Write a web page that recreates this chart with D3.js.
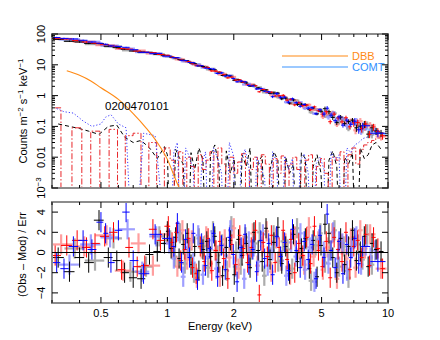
<!DOCTYPE html>
<html>
<head>
<meta charset="utf-8">
<title>0200470101 spectrum</title>
<script src="https://d3js.org/d3.v7.min.js"></script>
<style>
body { margin: 0; background: #fff; }
svg text { font-family: "Liberation Sans", Arial, sans-serif; font-size: 11px; }
</style>
</head>
<body>
<div id="chart"></div>
<script>
// ---------- data ----------
// total model (COMT) and disc blackbody (DBB)
var comtE = [0.3,0.35,0.4,0.45,0.5,0.6,0.7,0.8,0.9,1.0,1.2,1.4,1.6,1.8,2.0,2.5,3.0,3.5,4.0,4.5,5.0,6.0,7.0,8.0,9.0,10];
var comtV = [72,64,56,50,44,36,30,26,22,19,13.5,9.5,6.8,4.9,3.6,1.9,1.15,0.75,0.52,0.38,0.29,0.175,0.115,0.083,0.063,0.052];
var dbbE = [0.35,0.4,0.45,0.5,0.6,0.7,0.8,0.9,1.0,1.1,1.2];
var dbbV = [6.4,4.6,3.0,1.8,0.75,0.26,0.09,0.03,0.0085,0.0016,0.0004];

// pn (black)
var pnE = [0.32,0.36,0.40,0.44,0.49,0.54,0.59,0.64,0.70,0.76,0.83,0.90,0.97,
  1.00,1.04,1.09,1.13,1.18,1.23,1.28,1.33,1.39,1.45,1.51,1.57,1.64,1.71,1.78,1.85,1.93,2.01,2.10,2.18,2.28,2.37,2.47,2.58,2.69,2.80,2.92,3.04,3.17,3.30,3.44,3.58,3.73,3.89,4.05,4.22,4.40,4.58,4.77,4.97,5.18,5.40,5.62,5.86,6.10,6.36,6.63,6.90,7.19,7.49,7.81,8.13,8.47,8.83,9.30];
var pnFlux = [67,58,55,49.5,49,40,36,32,28,26,25,22,20.5,
  20.2,17.8,16.8,14.7,14.3,13.5,11.4,10.9,9.2,8.8,8.3,7.0,6.9,5.4,4.5,4.65,4.3,3.15,3.3,2.76,2.58,2.04,2.17,1.78,1.48,1.53,1.19,1.21,1.2,0.79,0.83,0.57,0.725,0.515,0.53,0.51,0.35,0.4,0.255,0.31,0.375,0.3,0.195,0.133,0.2,0.123,0.145,0.16,0.09,0.102,0.119,0.056,0.09,0.071,0.061];
var pnRes = [-0.5,-1.9,-0.5,-1.0,3.2,-0.5,-0.8,-2.0,-2.5,-2.6,-0.2,0.1,0.9,
  2.1,0.4,1.5,-0.6,0.8,1.9,-1.2,0.6,-1.8,0.3,1.1,-0.4,1.6,-1.0,-2.3,0.5,1.2,-2.2,1.3,-0.3,0.9,-1.5,2.0,0.2,-0.9,2.4,-0.7,1.0,2.5,-1.1,0.6,-2.1,1.8,-0.9,0.4,1.4,-1.6,1.2,-2.4,0.7,2.8,1.9,-0.5,-2.0,1.4,-1.2,0.6,2.2,-0.8,0.1,1.6,-1.4,0.9,0.3,0.1];
var pnComp = [0.12,0.1,0.085,0.07,0.055,0.1,0.11,0.045,0.03,0.035,0.02,0.009,0.022,
  0.012,0,0.018,0.01,0.006,0,0.014,0.004,0.02,0.008,0,0.012,0.025,0.006,0,0.016,0.003,0.009,0,0.012,0.005,0.02,0,0.007,0.011,0,0.004,0.015,0.008,0,0.01,0.003,0.006,0,0.014,0.009,0,0.005,0.012,0.003,0,0.008,0.016,0.005,0,0.01,0.006,0.014,0,0.02,0.009,0.012,0.025,0.03,0.018];

// MOS1 (red)
var m1E = [0.31,0.35,0.39,0.43,0.47,0.52,0.57,0.62,0.67,0.73,0.79,0.86,0.93,
  1.01,1.05,1.10,1.15,1.20,1.25,1.30,1.35,1.41,1.47,1.53,1.59,1.66,1.73,1.80,1.88,1.96,2.04,2.13,2.21,2.31,2.40,2.51,2.61,2.72,2.84,2.96,3.08,3.21,3.35,3.49,3.63,3.78,3.94,4.11,4.28,4.46,4.64,4.84,5.04,5.25,5.47,5.70,5.94,6.19,6.45,6.72,7.00,7.29,7.60,7.92,8.25,8.60,9.00,9.45];
var m1Flux = [73,69,62,55,50.5,45,40.5,33.5,32.3,28,25.7,24.8,21.6,
  20.2,17.8,16.7,14.3,13.6,12.8,10.7,9.75,9.5,8.2,8.1,6.3,6.2,5.8,4.75,3.75,4.0,3.2,3.23,2.71,2.23,2.15,2.09,1.33,1.58,1.3,1.29,0.97,0.99,1.02,0.71,0.76,0.5,0.59,0.477,0.49,0.35,0.43,0.32,0.25,0.3,0.142,0.25,0.188,0.14,0.19,0.097,0.13,0.133,0.085,0.12,0.056,0.096,0.069,0.05];
var m1Res = [-0.3,0.7,1.2,0.5,0.9,1.6,2.0,-1.7,0.5,-1.4,-1.3,2.3,1.2,
  2.6,1.0,2.0,-0.8,0.3,1.4,-1.5,-2.1,0.6,-0.9,1.4,-1.8,0.2,1.1,-0.6,-2.6,0.8,-1.2,1.7,0.4,-1.0,0.5,2.2,-4.2,1.0,-0.4,1.7,-1.0,0.5,2.2,-0.7,1.3,-2.0,0.9,-0.3,1.5,-1.1,2.6,0.2,-1.4,1.1,-2.5,1.5,0.3,-0.9,2.0,-1.7,0.6,1.2,-0.5,1.8,-1.3,1.5,0.4,-1.6];
var m1Comp = [0.4,0,0.09,0,0.07,0,0.08,0,0.05,0.06,0,0.03,0,
  0.02,0.008,0,0.015,0,0.01,0.005,0,0.012,0.004,0.008,0.015,0,0.02,0.006,0,0.01,0.003,0.007,0.013,0,0.004,0.01,0,0.012,0.006,0,0.009,0.003,0.011,0,0.006,0.01,0.004,0,0.008,0.012,0,0.005,0.009,0.003,0,0.01,0.008,0.015,0,0.012,0.02,0.006,0.018,0.025,0.03,0.035,0.042,0.05];

// MOS2 (blue)
var m2E = [0.315,0.34,0.375,0.415,0.455,0.50,0.525,0.555,0.60,0.65,0.70,0.78,0.88,
  1.02,1.07,1.11,1.16,1.21,1.26,1.31,1.37,1.43,1.49,1.55,1.62,1.69,1.76,1.83,1.91,1.99,2.07,2.16,2.25,2.34,2.44,2.54,2.65,2.76,2.88,3.00,3.13,3.26,3.40,3.54,3.69,3.84,4.00,4.17,4.35,4.53,4.72,4.92,5.13,5.30,5.52,5.76,6.00,6.25,6.51,6.78,7.07,7.37,7.68,9.0];
var m2Flux = [77,72,69,62.5,55,50,46.5,41,39.5,37,30.8,25.3,23.5,
  19.1,17.2,17.0,14.0,13.8,11.9,11.7,9.2,9.35,7.85,7.55,7.2,5.2,5.45,4.3,4.45,3.6,2.8,2.97,2.8,2.14,2.06,1.65,1.7,1.39,1.33,0.92,1.17,0.88,0.89,0.61,0.785,0.59,0.45,0.515,0.39,0.4,0.257,0.346,0.25,0.39,0.232,0.153,0.204,0.11,0.159,0.117,0.147,0.078,0.105,0.06];
var m2Res = [-1.0,-1.6,0.6,1.2,0.3,3.0,1.9,-1.0,2.2,4.0,-0.8,-2.1,1.8,
  1.4,0.6,2.9,-1.0,1.3,-0.5,1.9,-2.7,0.9,-1.3,0.4,1.9,-2.4,0.7,-1.7,1.5,-0.2,-2.9,0.5,1.8,-1.2,0.3,-1.9,1.2,-0.6,0.9,-2.2,1.6,-0.4,1.0,-1.8,2.3,0.2,-1.5,1.1,-0.7,0.8,-2.6,1.7,-0.5,3.8,0.2,-1.5,1.1,-2.1,0.8,-0.5,1.4,-1.1,0.6,-0.9];
var m2Comp = [0.38,0.3,0.27,0.15,0.1,0.12,0.2,0.24,0.12,0.09,0,0.06,0.05,
  0,0.015,0.03,0,0.02,0.01,0.004,0,0.006,0.015,0,0.02,0.009,0.003,0,0.03,0.012,0,0.008,0.018,0.005,0,0.01,0.005,0.002,0,0.015,0.007,0,0.011,0.004,0.009,0,0.008,0.013,0.003,0,0.006,0.01,0.004,0,0.015,0.008,0.012,0,0.02,0.014,0.025,0.03,0.04,0.06];

// second set, lighter colours
var pn2E = [0.38,0.47,0.57,0.68,0.80,0.92,
  1.03,1.08,1.14,1.20,1.26,1.32,1.39,1.46,1.53,1.61,1.69,1.77,1.86,1.95,2.05,2.15,2.26,2.37,2.49,2.62,2.75,2.89,3.03,3.18,3.34,3.51,3.68,3.87,4.06,4.26,4.48,4.70,4.94,5.18,5.44,5.72,6.00,6.30,6.62,6.95,7.30,7.66,8.05,8.45,8.9];
var pn2Flux = [59.5,47,39.5,29.5,25.5,22.1,
  18.6,16.2,15.6,13.05,12.3,10.25,10.1,8.75,7.1,7.4,5.76,5.36,4.05,4.4,3.37,2.77,2.74,2.13,2.02,1.84,1.28,1.29,1.28,0.89,0.935,0.765,0.56,0.687,0.478,0.49,0.288,0.361,0.351,0.225,0.237,0.266,0.138,0.169,0.084,0.145,0.123,0.08,0.115,0.055,0.07];
var pn2Res = [0.4,-0.8,1.4,-1.9,-1.4,1.6,
  1.2,-0.4,1.9,-1.1,0.3,-2.0,1.4,0.6,-1.5,2.1,-0.3,0.8,-1.8,2.6,0.1,-1.2,1.5,-0.6,0.9,2.0,-2.3,0.4,1.7,-0.9,1.1,0.3,-1.6,2.4,-0.5,1.3,-2.8,0.7,1.9,-1.0,0.2,2.2,-1.4,0.6,-2.5,1.5,0.8,-0.7,1.8,-1.2,0.3];

var m1bE = [0.33,0.42,0.53,0.63,0.74,0.86,
  1.00,1.05,1.11,1.17,1.23,1.29,1.36,1.43,1.50,1.57,1.65,1.73,1.82,1.91,2.00,2.10,2.21,2.32,2.44,2.56,2.69,2.82,2.96,3.11,3.27,3.43,3.60,3.78,3.97,4.17,4.38,4.60,4.83,5.07,5.32,5.59,5.87,6.16,6.47,6.79,7.13,7.49,7.86,8.30,9.3];
var m1bFlux = [69,56.5,43.5,33,29,23.2,
  20,17.55,14.95,15.1,12.5,11.8,9.45,9.15,8.65,6.75,6.3,4.85,5.05,4.05,4.03,2.88,2.85,2.38,2.3,1.66,1.6,1.49,1.08,1.18,0.85,0.865,0.557,0.698,0.55,0.42,0.502,0.347,0.352,0.209,0.263,0.276,0.115,0.185,0.132,0.154,0.075,0.148,0.096,0.109,0.047];
var m1bRes = [0.8,0.6,1.7,-1.8,0.9,-1.3,
  1.8,0.5,-1.4,2.2,-0.7,1.2,-2.5,0.4,1.6,-1.1,0.2,-2.4,1.3,-0.5,2.4,-1.6,0.7,-0.2,1.9,-1.3,0.6,2.1,-1.9,1.4,-0.8,0.9,-2.2,1.6,0.3,-1.2,2.5,-0.4,1.1,-1.7,0.5,1.9,-2.6,0.8,-0.6,1.4,-1.5,2.2,0.4,1.8,-1.6];

var m2bE = [0.36,0.45,0.55,0.66,0.77,0.89,
  1.02,1.07,1.12,1.18,1.24,1.31,1.38,1.45,1.52,1.59,1.67,1.75,1.84,1.93,2.03,2.13,2.23,2.34,2.46,2.58,2.71,2.85,2.99,3.14,3.30,3.46,3.64,3.82,4.01,4.21,4.42,4.64,4.87,5.11,5.37,5.64,5.92,6.21,6.52,6.85,7.19,7.55,7.93,8.33,8.75];
var m2bFlux = [67,56,42,33.5,25.8,23,
  18.8,16.6,16.4,13.0,12.8,10.8,10.35,8.1,7.85,7.3,5.5,5.5,4.53,4.45,3.2,3.06,2.29,2.4,2.06,1.64,1.65,1.22,1.17,1.15,0.82,0.615,0.735,0.57,0.603,0.385,0.418,0.262,0.346,0.279,0.2,0.273,0.168,0.184,0.104,0.133,0.149,0.072,0.099,0.069,0.072];
var m2bRes = [-1.2,0.8,1.5,2.3,-1.9,1.6,
  0.9,-0.6,2.1,-2.4,0.5,-1.0,1.7,-2.2,0.3,1.2,-1.6,0.7,-0.3,2.2,-1.4,0.4,-2.6,1.1,0.6,-0.9,1.8,-1.3,0.2,1.5,-0.8,-2.3,1.0,-0.4,1.9,-1.7,0.5,-2.9,1.3,0.1,-1.1,2.0,-0.6,0.9,-1.8,0.4,1.6,-1.2,0.7,-0.5,0.2];

// fractional flux error, stepping up with energy
var errEdges = [0.6, 1.5, 3, 5, 7];
var errFrac = [0.05, 0.035, 0.06, 0.1, 0.17, 0.26];

// ticks
var xTickVals = [0.3,0.4,0.5,0.6,0.7,0.8,0.9,1,2,3,4,5,6,7,8,9,10];
var xTickLabels = [0.5, 1, 2, 5, 10];
var yDecades = [1e-3, 1e-2, 0.1, 1, 10, 100];
var yDecadeLabels = ["10", "0.01", "0.1", "1", "10", "100"];
var resTicks = [-4, -2, 0, 2, 4];
var resTickLabels = ["\u22124", "\u22122", "0", "2", "4"];

// ---------- layout ----------
var width = 440, height = 340;
var left = 52, right = 388;
var top1 = 34, bot1 = 188, top2 = 202, bot2 = 303;

var x = d3.scaleLog().domain([0.3, 10]).range([left, right]);
var y = d3.scaleLog().domain([1e-3, 100]).range([bot1, top1]);
var yr = d3.scaleLinear().domain([-5, 5]).range([bot2, top2]);
var errScale = d3.scaleThreshold().domain(errEdges).range(errFrac);

var svg = d3.select("#chart").append("svg")
    .attr("width", width)
    .attr("height", height);

var defs = svg.append("defs");
defs.append("clipPath").attr("id", "clipTop").append("rect")
    .attr("x", left).attr("y", top1).attr("width", right - left).attr("height", bot1 - top1);
defs.append("clipPath").attr("id", "clipBot").append("rect")
    .attr("x", left).attr("y", top2).attr("width", right - left).attr("height", bot2 - top2);

var gTop = svg.append("g").attr("clip-path", "url(#clipTop)");
var gBot = svg.append("g").attr("clip-path", "url(#clipBot)");

// bin edges half way (in log) to the neighbours
function binEdges(E) {
    return E.map(function (e, i) {
        var lo = i > 0 ? Math.sqrt(E[i - 1] * e) : e * e / Math.sqrt(e * E[i + 1]);
        var hi = i < E.length - 1 ? Math.sqrt(e * E[i + 1]) : e * e / Math.sqrt(E[i - 1] * e);
        return [lo, hi];
    });
}

function zip(E, F, R) {
    var b = binEdges(E);
    return E.map(function (e, i) { return { e: e, f: F[i], r: R[i], lo: b[i][0], hi: b[i][1] }; });
}

var sets = [
    { pts: zip(pn2E, pn2Flux, pn2Res), color: "#8a8a8a", w: 2.2, op: 0.7 },
    { pts: zip(m1bE, m1bFlux, m1bRes), color: "#ff8080", w: 2.2, op: 0.75 },
    { pts: zip(m2bE, m2bFlux, m2bRes), color: "#8080ff", w: 2.2, op: 0.75 },
    { pts: zip(pnE, pnFlux, pnRes), color: "#000000", w: 1, op: 1 },
    { pts: zip(m1E, m1Flux, m1Res), color: "#ff0000", w: 1, op: 1 },
    { pts: zip(m2E, m2Flux, m2Res), color: "#0000ff", w: 1, op: 1 }
];

// ---------- top panel ----------
var floorV = 1e-6;
var compLine = d3.line()
    .x(function (d) { return x(d[0]); })
    .y(function (d) { return y(Math.max(d[1], floorV)); });

var comps = [
    { E: pnE, V: pnComp, color: "#000000", dash: "4,3", curve: d3.curveLinear },
    { E: m1E, V: m1Comp, color: "#e8262a", dash: "6,2,1.5,2", curve: d3.curveStep },
    { E: m2E, V: m2Comp, color: "#3a3aff", dash: "1.2,2", curve: d3.curveLinear }
];
comps.forEach(function (c) {
    gTop.append("path")
        .datum(c.E.map(function (e, i) { return [e, c.V[i]]; }))
        .attr("d", compLine.curve(c.curve))
        .attr("fill", "none")
        .attr("stroke", c.color)
        .attr("stroke-width", 1)
        .attr("stroke-dasharray", c.dash);
});

var smooth = d3.line()
    .x(function (d) { return x(d[0]); })
    .y(function (d) { return y(d[1]); })
    .curve(d3.curveMonotoneX);

gTop.append("path")
    .datum(dbbE.map(function (e, i) { return [e, dbbV[i]]; }))
    .attr("d", smooth)
    .attr("fill", "none")
    .attr("stroke", "#ff8a14")
    .attr("stroke-width", 1.1);

gTop.append("path")
    .datum(comtE.map(function (e, i) { return [e, comtV[i]]; }))
    .attr("d", smooth)
    .attr("fill", "none")
    .attr("stroke", "#9cc9ff")
    .attr("stroke-width", 2.2);

sets.forEach(function (s) {
    var g = gTop.append("g").attr("stroke", s.color).attr("stroke-width", s.w).attr("opacity", s.op);
    g.selectAll("line.h").data(s.pts).join("line").attr("class", "h")
        .attr("x1", function (d) { return x(d.lo); })
        .attr("x2", function (d) { return x(d.hi); })
        .attr("y1", function (d) { return y(d.f); })
        .attr("y2", function (d) { return y(d.f); });
    g.selectAll("line.v").data(s.pts).join("line").attr("class", "v")
        .attr("x1", function (d) { return x(d.e); })
        .attr("x2", function (d) { return x(d.e); })
        .attr("y1", function (d) { return y(d.f * (1 - errScale(d.e))); })
        .attr("y2", function (d) { return y(d.f * (1 + errScale(d.e))); });
});

// ---------- bottom panel ----------
sets.forEach(function (s) {
    var g = gBot.append("g").attr("stroke", s.color).attr("stroke-width", s.w).attr("opacity", s.op);
    g.selectAll("line.h").data(s.pts).join("line").attr("class", "h")
        .attr("x1", function (d) { return x(d.lo); })
        .attr("x2", function (d) { return x(d.hi); })
        .attr("y1", function (d) { return yr(d.r); })
        .attr("y2", function (d) { return yr(d.r); });
    g.selectAll("line.v").data(s.pts).join("line").attr("class", "v")
        .attr("x1", function (d) { return x(d.e); })
        .attr("x2", function (d) { return x(d.e); })
        .attr("y1", function (d) { return yr(d.r - 1); })
        .attr("y2", function (d) { return yr(d.r + 1); });
});

gBot.append("line")
    .attr("x1", left).attr("x2", right)
    .attr("y1", yr(0)).attr("y2", yr(0))
    .attr("stroke", "#000").attr("stroke-width", 1.2);

// ---------- frames and ticks ----------
[[top1, bot1], [top2, bot2]].forEach(function (p) {
    svg.append("rect")
        .attr("x", left).attr("y", p[0])
        .attr("width", right - left).attr("height", p[1] - p[0])
        .attr("fill", "none").attr("stroke", "#8c8c8c").attr("stroke-width", 2);
});

var ticks = svg.append("g").attr("stroke", "#000").attr("stroke-width", 1);

function xTicks(yT, yB) {
    xTickVals.forEach(function (v) {
        var len = xTickLabels.indexOf(v) >= 0 ? 6 : 3;
        ticks.append("line").attr("x1", x(v)).attr("x2", x(v)).attr("y1", yB).attr("y2", yB - len);
        ticks.append("line").attr("x1", x(v)).attr("x2", x(v)).attr("y1", yT).attr("y2", yT + len);
    });
}
xTicks(top1, bot1);
xTicks(top2, bot2);

function yTick(py, len) {
    ticks.append("line").attr("x1", left).attr("x2", left + len).attr("y1", py).attr("y2", py);
    ticks.append("line").attr("x1", right).attr("x2", right - len).attr("y1", py).attr("y2", py);
}
yDecades.forEach(function (d, i) {
    yTick(y(d), 6);
    if (i < yDecades.length - 1) {
        for (var k = 2; k <= 9; k++) yTick(y(d * k), 3);
    }
});
resTicks.forEach(function (v) { yTick(yr(v), 6); });

// ---------- labels ----------
xTickLabels.forEach(function (v) {
    svg.append("text")
        .attr("x", x(v)).attr("y", 317)
        .attr("text-anchor", "middle")
        .text(v);
});
svg.append("text").attr("x", 220).attr("y", 330).attr("text-anchor", "middle").text("Energy (keV)");

yDecades.forEach(function (d, i) {
    var t = svg.append("text")
        .attr("transform", "translate(45," + y(d) + ") rotate(-90)")
        .attr("text-anchor", "middle")
        .text(yDecadeLabels[i]);
    if (i === 0) t.append("tspan").attr("dy", -4).attr("font-size", "8px").text("\u22123");
});
resTicks.forEach(function (v, i) {
    svg.append("text")
        .attr("transform", "translate(45," + yr(v) + ") rotate(-90)")
        .attr("text-anchor", "middle")
        .text(resTickLabels[i]);
});

var yt = svg.append("text")
    .attr("transform", "translate(27," + (top1 + bot1) / 2 + ") rotate(-90)")
    .attr("text-anchor", "middle");
yt.append("tspan").text("Counts m");
yt.append("tspan").attr("dy", -4).attr("font-size", "8px").text("\u22122");
yt.append("tspan").attr("dy", 4).text(" s");
yt.append("tspan").attr("dy", -4).attr("font-size", "8px").text("\u22121");
yt.append("tspan").attr("dy", 4).text(" keV");
yt.append("tspan").attr("dy", -4).attr("font-size", "8px").text("\u22121");

svg.append("text")
    .attr("transform", "translate(26," + ((top2 + bot2) / 2 + 2) + ") rotate(-90)")
    .attr("text-anchor", "middle")
    .text("(Obs \u2013 Mod) / Err");

svg.append("text").attr("x", 105).attr("y", 110).style("font-size", "11.5px").text("0200470101");

// legend
svg.append("line").attr("x1", 282).attr("x2", 348).attr("y1", 56).attr("y2", 56)
    .attr("stroke", "#ff8a14").attr("stroke-width", 1.1);
svg.append("text").attr("x", 352).attr("y", 60).attr("fill", "#ff8a14").text("DBB");
svg.append("line").attr("x1", 282).attr("x2", 348).attr("y1", 67).attr("y2", 67)
    .attr("stroke", "#9cc9ff").attr("stroke-width", 2.2);
svg.append("text").attr("x", 352).attr("y", 71).attr("fill", "#2f8fff").text("COMT");
</script>
</body>
</html>
